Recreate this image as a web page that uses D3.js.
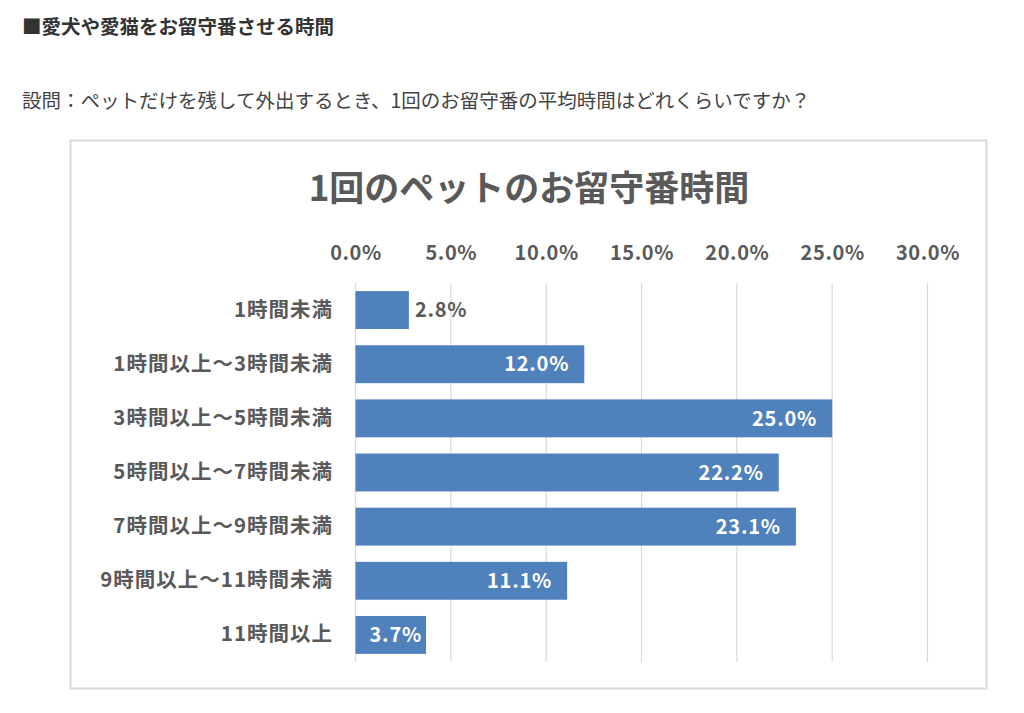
<!DOCTYPE html>
<html><head><meta charset="utf-8">
<script src="https://cdn.jsdelivr.net/npm/d3@7"></script>
<style>
body{margin:0;background:#fff;font-family:"Noto Sans CJK JP","Noto Sans",sans-serif;}
</style></head>
<body><svg id="c" width="1024" height="713"></svg>
<script>
const headerText = "■愛犬や愛猫をお留守番させる時間";
const questionText = "設問：ペットだけを残して外出するとき、1回のお留守番の平均時間はどれくらいですか？";
const chartTitle = "1回のペットのお留守番時間";
const categories = ["1時間未満","1時間以上～3時間未満","3時間以上～5時間未満","5時間以上～7時間未満","7時間以上～9時間未満","9時間以上～11時間未満","11時間以上"];
const values = [2.8, 12.0, 25.0, 22.2, 23.1, 11.1, 3.7];
const tickValues = [0,5,10,15,20,25,30];

const svg = d3.select("#c");
const font = "'Noto Sans CJK JP','Noto Sans',sans-serif";

svg.append("text").attr("x",22).attr("y",34).attr("font-family",font).attr("font-weight",700)
  .attr("font-size",19.5).attr("fill","#333").text(headerText);
svg.append("text").attr("x",22).attr("y",108).attr("font-family",font).attr("font-weight",400)
  .attr("font-size",19.5).attr("fill","#444").text(questionText);

// chart frame
svg.append("rect").attr("x",70.5).attr("y",140.5).attr("width",916).attr("height",548)
  .attr("fill","#fff").attr("stroke","#d9d9d9").attr("stroke-width",2);

svg.append("text").attr("x",529).attr("y",201).attr("text-anchor","middle").attr("font-family",font)
  .attr("font-weight",700).attr("font-size",35).attr("fill","#595959").text(chartTitle);

const x = d3.scaleLinear().domain([0,30]).range([355.5,927.5]);
const y = d3.scaleBand().domain(categories).range([283,662]).paddingInner(0.3).paddingOuter(0.15);

// gridlines
const g = svg.append("g");
g.selectAll("line.grid").data(tickValues).join("line")
  .attr("x1",d=>x(d)).attr("x2",d=>x(d)).attr("y1",283).attr("y2",662)
  .attr("stroke","#d9d9d9").attr("stroke-width",1.2);

// top axis labels
const ax = svg.append("g").attr("transform","translate(0,256)")
  .call(d3.axisTop(x).tickValues(tickValues).tickSize(0).tickPadding(0).tickFormat(d=>d.toFixed(1)+"%"));
ax.select(".domain").remove();
ax.selectAll("text").attr("font-family",font).attr("font-weight",700).attr("font-size",20)
  .attr("letter-spacing","0.6px").attr("fill","#595959").attr("dy","0.2em");

// category labels
const ay = svg.append("g").attr("transform","translate(333,0)")
  .call(d3.axisLeft(y).tickSize(0).tickPadding(0));
ay.select(".domain").remove();
ay.selectAll("text").attr("font-family",font).attr("font-weight",700).attr("font-size",20.5)
  .attr("letter-spacing","1.0px").attr("fill","#595959");

// bars
svg.selectAll("rect.bar").data(values).join("rect").attr("class","bar")
  .attr("x",x(0)).attr("y",(d,i)=>y(categories[i]))
  .attr("width",d=>x(d)-x(0)).attr("height",y.bandwidth())
  .attr("fill","#4f81bd");

// value labels
svg.selectAll("text.val").data(values).join("text").attr("class","val")
  .attr("x",d=> d<3 ? x(d)+6 : (d<5 ? x(0)+14 : x(d)-15))
  .attr("y",(d,i)=>y(categories[i])+y.bandwidth()/2)
  .attr("dy","0.36em")
  .attr("text-anchor",d=> d<5 ? "start":"end")
  .attr("font-family",font).attr("font-weight",700).attr("font-size",20)
  .attr("letter-spacing","0.8px")
  .attr("fill",d=> d<3 ? "#595959":"#fff")
  .text(d=>d.toFixed(1)+"%");
</script></body></html>
